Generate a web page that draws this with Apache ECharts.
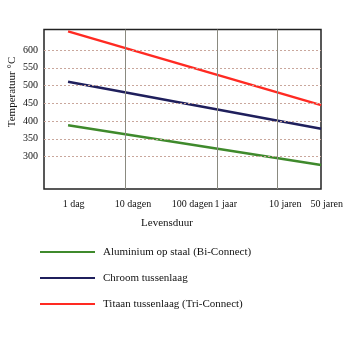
<!DOCTYPE html>
<html>
<head>
<meta charset="utf-8">
<script src="https://cdn.jsdelivr.net/npm/echarts@6/dist/echarts.min.js"></script>
<style>html,body{margin:0;padding:0;background:#fff}#c{width:350px;height:337px}</style>
</head>
<body>
<div id="c"></div>
<script>
const xTickLabels = ['1 dag', '10 dagen', '100 dagen', '1 jaar', '10 jaren', '50 jaren'];
const xTickDays = [1, 10, 100, 365, 3650, 18250];
const xGridDays = [10, 365, 3650];
const yTicks = [300, 350, 400, 450, 500, 550, 600];
const lifeDays = [1.1, 20000];
const seriesNames = ['Aluminium op staal (Bi-Connect)', 'Chroom tussenlaag', 'Titaan tussenlaag (Tri-Connect)'];
const aluminium = [388, 276];
const chroom = [511, 378];
const titaan = [653, 445];
const colors = ['#3f8a2c', '#1f1f5c', '#ff2a22'];

const serif = 'Liberation Serif';
const lg = v => Math.log10(v);
const xTickVals = xTickDays.map(lg);
const toSeries = vals => lifeDays.map((d, i) => [lg(d), vals[i]]);

const chart = echarts.init(document.getElementById('c'));
chart.setOption({
  animation: false,
  backgroundColor: '#fff',
  grid: { left: 44, right: 29, top: 29.5, bottom: 148, show: true, borderColor: '#222', borderWidth: 1.5, backgroundColor: 'transparent' },
  xAxis: {
    type: 'value', min: -0.364, max: 4.3,
    axisLine: { show: false }, axisTick: { show: false }, splitLine: { show: false },
    axisLabel: {
      customValues: xTickVals,
      formatter: v => { let best = 0; xTickVals.forEach((t, i) => { if (Math.abs(t - v) < Math.abs(xTickVals[best] - v)) best = i; }); return xTickLabels[best]; },
      fontFamily: serif, fontSize: 10, color: '#111', margin: 10, padding: [0, 0, 0, 16]
    }
  },
  yAxis: {
    type: 'value', min: 208.3, max: 658.2,
    axisLine: { show: false }, axisTick: { show: false }, splitLine: { show: false },
    axisLabel: { customValues: yTicks, fontFamily: serif, fontSize: 10, color: '#111', margin: 6 }
  },
  legend: {
    orient: 'vertical', left: 35, top: 240, itemWidth: 55, itemHeight: 2, itemGap: 12,
    icon: 'rect',
    data: seriesNames,
    textStyle: { fontFamily: serif, fontSize: 11, color: '#111', padding: [0, 0, 0, 3], lineHeight: 14 }
  },
  graphic: [
    { type: 'text', x: 12, y: 92, rotation: Math.PI / 2, style: { text: 'Temperatuur °C', font: '11px "Liberation Serif"', fill: '#111', align: 'center', verticalAlign: 'middle' } },
    { type: 'text', x: 167, y: 223, style: { text: 'Levensduur', font: '11px "Liberation Serif"', fill: '#111', align: 'center', verticalAlign: 'middle' } }
  ],
  series: [
    {
      type: 'line', name: 'grid', data: [], z: 1, silent: true,
      markLine: {
        silent: true, symbol: 'none', label: { show: false }, animation: false,
        data: [
          ...yTicks.map(v => ({ yAxis: v, lineStyle: { type: [2, 2], color: '#c9a79c', width: 1 } })),
          ...xGridDays.map(d => ({ xAxis: lg(d), lineStyle: { type: 'solid', color: '#8a8a80', width: 1 } }))
        ]
      }
    },
    { type: 'line', name: seriesNames[0], data: toSeries(aluminium), showSymbol: false, z: 3, lineStyle: { width: 2.5, color: colors[0] }, itemStyle: { color: colors[0] } },
    { type: 'line', name: seriesNames[1], data: toSeries(chroom), showSymbol: false, z: 3, lineStyle: { width: 2.5, color: colors[1] }, itemStyle: { color: colors[1] } },
    { type: 'line', name: seriesNames[2], data: toSeries(titaan), showSymbol: false, z: 3, lineStyle: { width: 2.5, color: colors[2] }, itemStyle: { color: colors[2] } }
  ]
});
</script>
</body>
</html>
